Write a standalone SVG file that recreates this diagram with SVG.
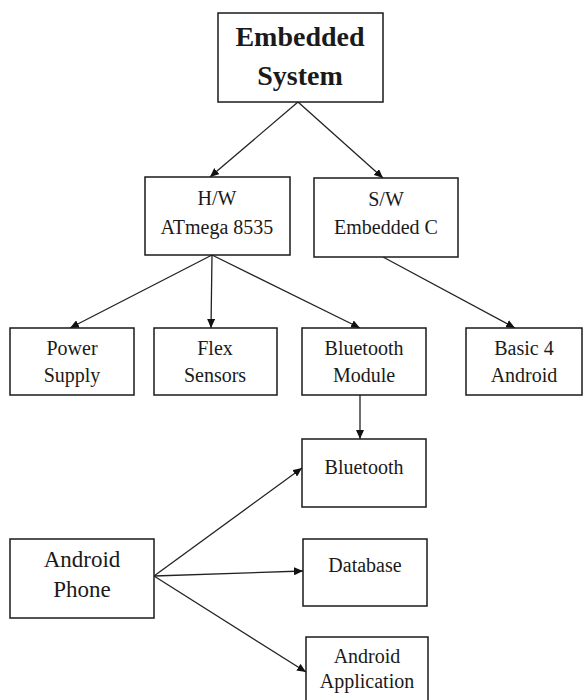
<svg xmlns="http://www.w3.org/2000/svg" width="588" height="700" viewBox="0 0 588 700">
<style>
.box{fill:#fff;stroke:#1a1a1a;stroke-width:1.5}
.t{font-family:'Liberation Serif','DejaVu Serif',serif;font-size:20px;fill:#1a1a1a;text-anchor:middle}
.b{font-weight:bold;font-size:28px}
.l{fill:none;stroke:#222;stroke-width:1.3;marker-end:url(#ah)}
</style>
<defs>
<marker id="ah" markerUnits="userSpaceOnUse" markerWidth="10" markerHeight="8" refX="9" refY="4" orient="auto">
<path d="M0,0 L9,4 L0,8 Z" fill="#111"/>
</marker>
</defs>
<rect width="588" height="700" fill="#fff"/>
<g id="connectors">
<line class="l" x1="298" y1="102" x2="210" y2="177"/>
<line class="l" x1="298" y1="102" x2="383" y2="178"/>
<line class="l" x1="212" y1="255" x2="70" y2="328"/>
<line class="l" x1="212" y1="255" x2="211" y2="328"/>
<line class="l" x1="212" y1="255" x2="360" y2="328"/>
<line class="l" x1="383" y1="257" x2="515" y2="328"/>
<line class="l" x1="360" y1="395" x2="360" y2="439"/>
<line class="l" x1="154" y1="576" x2="302" y2="468"/>
<line class="l" x1="154" y1="576" x2="303" y2="571"/>
<line class="l" x1="154" y1="576" x2="306" y2="672"/>
</g>
<g id="embedded"><rect class="box" x="218" y="13" width="165" height="89"/><text class="t b" x="300" y="46" font-family="Liberation Serif">Embedded</text><text class="t b" x="300" y="85" font-family="Liberation Serif">System</text></g>
<g id="hw"><rect class="box" x="145" y="177" width="145" height="78"/><text class="t" x="217" y="205">H/W</text><text class="t" x="217" y="234">ATmega 8535</text></g>
<g id="sw"><rect class="box" x="314" y="178" width="144" height="79"/><text class="t" x="386" y="206">S/W</text><text class="t" x="386" y="234">Embedded C</text></g>
<g id="power"><rect class="box" x="10" y="328" width="124" height="67"/><text class="t" x="72" y="355">Power</text><text class="t" x="72" y="382">Supply</text></g>
<g id="flex"><rect class="box" x="154" y="328" width="123" height="67"/><text class="t" x="215" y="355">Flex</text><text class="t" x="215" y="382">Sensors</text></g>
<g id="btmodule"><rect class="box" x="302" y="328" width="124" height="67"/><text class="t" x="364" y="355">Bluetooth</text><text class="t" x="364" y="382">Module</text></g>
<g id="basic4"><rect class="box" x="466" y="328" width="116" height="67"/><text class="t" x="524" y="355">Basic 4</text><text class="t" x="524" y="382">Android</text></g>
<g id="bluetooth"><rect class="box" x="302" y="439" width="124" height="68"/><text class="t" x="364" y="474">Bluetooth</text></g>
<g id="database"><rect class="box" x="303" y="539" width="124" height="67"/><text class="t" x="365" y="572">Database</text></g>
<g id="phone"><rect class="box" x="10" y="539" width="144" height="79"/><text class="t" x="82" y="567" style="font-size:23px">Android</text><text class="t" x="82" y="597" style="font-size:23px">Phone</text></g>
<g id="app"><rect class="box" x="306" y="637" width="122" height="70"/><text class="t" x="367" y="663">Android</text><text class="t" x="367" y="688">Application</text></g>
</svg>
